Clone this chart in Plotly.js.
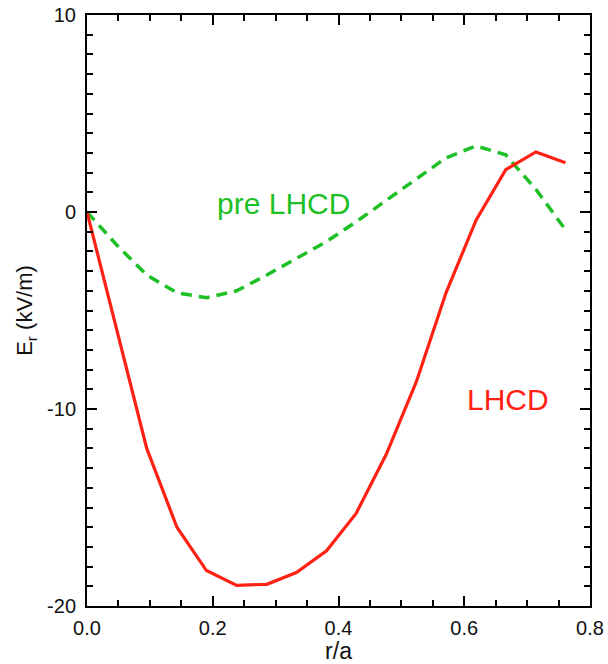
<!DOCTYPE html>
<html>
<head>
<meta charset="utf-8">
<script src="https://cdn.plot.ly/plotly-3.0.1.min.js"></script>
<style>html,body{margin:0;padding:0;background:#fff;}#chart{width:608px;height:664px;}</style>
</head>
<body>
<div id="chart"></div>
<script>
// r/a sample positions
var rOverA = [0, 0.048, 0.095, 0.143, 0.190, 0.238, 0.286, 0.333, 0.381, 0.428, 0.476, 0.524, 0.571, 0.619, 0.666, 0.714, 0.761];
// E_r (kV/m) with LHCD
var erLHCD = [0, -6.1, -12.0, -16.0, -18.2, -18.95, -18.9, -18.3, -17.2, -15.3, -12.3, -8.6, -4.1, -0.4, 2.15, 3.05, 2.5];
// E_r (kV/m) before LHCD
var erPreLHCD = [0, -1.7, -3.2, -4.1, -4.35, -4.0, -3.2, -2.35, -1.5, -0.5, 0.6, 1.7, 2.75, 3.35, 2.9, 1.15, -0.9];

var xTickVals = [0, 0.2, 0.4, 0.6, 0.8];
var xTickText = ['0.0', '0.2', '0.4', '0.6', '0.8'];
var yTickVals = [-20, -10, 0, 10];
var yTickText = ['-20', '-10', '0', '10'];

var RED = '#ff2214';
var GREEN = '#1fbf26';

var traces = [
  {x: rOverA, y: erPreLHCD, mode: 'lines', name: 'pre LHCD',
   line: {color: GREEN, width: 3.5, dash: '11px,7px'}},
  {x: rOverA, y: erLHCD, mode: 'lines', name: 'LHCD',
   line: {color: RED, width: 3.2}}
];

var FONT = 'Liberation Sans, Arial, sans-serif';
var tickFont = {family: FONT, size: 20, color: '#111'};

var layout = {
  width: 608, height: 664,
  margin: {l: 87, r: 18, t: 15, b: 58},
  paper_bgcolor: '#fff', plot_bgcolor: '#fff',
  showlegend: false,
  xaxis: {
    range: [0, 0.8], tickvals: xTickVals, ticktext: xTickText,
    ticks: 'inside', ticklen: 10, tickwidth: 2, tickcolor: '#000',
    showline: true, linewidth: 2, linecolor: '#000', mirror: 'ticks',
    showgrid: false, zeroline: false,
    minor: {dtick: 0.05, ticks: 'inside', ticklen: 6, tickwidth: 2, tickcolor: '#000', showgrid: false},
    tickfont: tickFont, ticklabelstandoff: 3,
    title: {text: 'r/a', font: {family: FONT, size: 23, color: '#111'}, standoff: 0}
  },
  yaxis: {
    range: [-20, 10], tickvals: yTickVals, ticktext: yTickText,
    ticks: 'inside', ticklen: 10, tickwidth: 2, tickcolor: '#000',
    showline: true, linewidth: 2, linecolor: '#000', mirror: 'ticks',
    showgrid: false, zeroline: false,
    minor: {dtick: 1, ticks: 'inside', ticklen: 6, tickwidth: 2, tickcolor: '#000', showgrid: false},
    tickfont: tickFont, ticklabelstandoff: 5,
    title: {text: 'E<sub>r</sub> (kV/m)', font: {family: FONT, size: 22, color: '#111'}, standoff: 8}
  },
  annotations: [
    {x: 0.312, y: 0.45, xref: 'x', yref: 'y', text: 'pre LHCD', showarrow: false,
     font: {family: FONT, size: 30, color: GREEN}},
    {x: 0.670, y: -9.5, xref: 'x', yref: 'y', text: 'LHCD', showarrow: false,
     font: {family: FONT, size: 30, color: RED}}
  ]
};

Plotly.newPlot('chart', traces, layout, {displayModeBar: false, staticPlot: true});
</script>
</body>
</html>
